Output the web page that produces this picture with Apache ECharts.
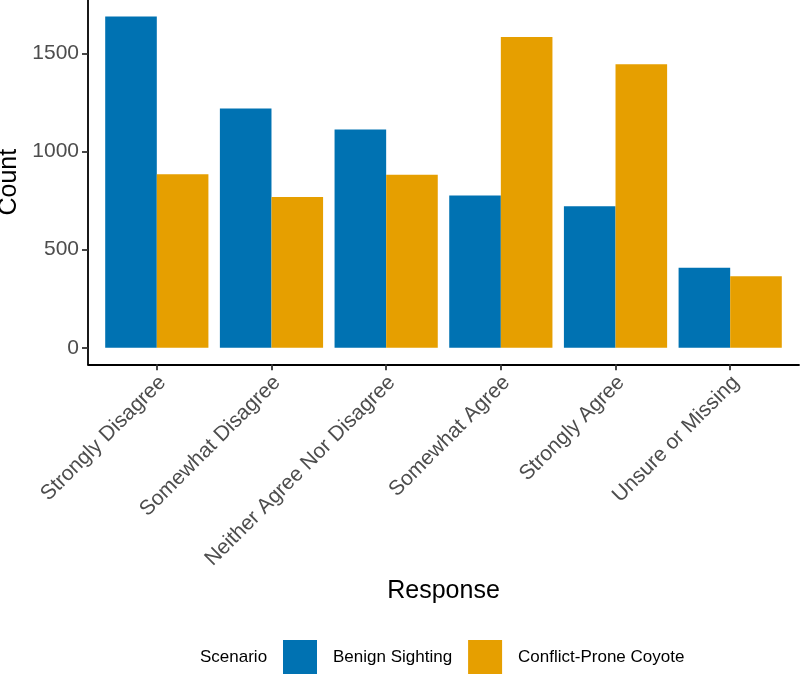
<!DOCTYPE html>
<html lang="en">
<head>
    <meta charset="UTF-8">
    <title>Coyote scenario responses</title>
    <script src="https://cdn.jsdelivr.net/npm/echarts@6/dist/echarts.min.js"></script>
    <style>
        body { margin: 0; background: #fff; }
        #chart { width: 800px; height: 675px; }
    </style>
</head>
<body>
    <div id="chart"></div>
    <script type="text/javascript">
    // values
    const categories = ['Strongly Disagree', 'Somewhat Disagree', 'Neither Agree Nor Disagree',
                        'Somewhat Agree', 'Strongly Agree', 'Unsure or Missing'];
    const seriesNames = ['Benign Sighting', 'Conflict-Prone Coyote'];
    const benign = [1687, 1219, 1112, 775, 721, 408];
    const conflict = [884, 768, 881, 1583, 1444, 364];
    const yTicks = [0, 500, 1000, 1500];

    const font = 'Liberation Sans, Arial, sans-serif';
    const colors = ['#0072B2', '#E69F00'];

    // ggplot style padding: 5% on y, 0.6 units on x
    const dataMax = Math.max(...benign, ...conflict);
    const yMin = -0.05 * dataMax;
    const yMax = 1.05 * dataMax;
    const xPos = categories.map((c, i) => i + 1);
    // rotated labels hang a little right of their tick, like hjust = 1 in ggplot
    const xLabelPos = xPos.map(v => v + 0.05);

    const gridLeft = 88, gridRight = 1;
    const unitPx = (800 - gridLeft - gridRight) / (categories.length + 0.2);
    const barW = 0.45 * unitPx;

    var chart = echarts.init(document.getElementById('chart'));
    var option = {
        animation: false,
        textStyle: { fontFamily: font },
        grid: {
            left: gridLeft, right: gridRight, top: 0, bottom: 310.7,
            containLabel: false, outerBoundsMode: 'none'
        },
        title: {
            text: 'Scenario', left: 200, top: 649, padding: 0,
            textStyle: { fontSize: 17, fontWeight: 'normal', color: '#000', fontFamily: font }
        },
        legend: {
            data: seriesNames, left: 283, top: 640, padding: 0,
            icon: 'rect', itemWidth: 34, itemHeight: 34, itemGap: 16,
            textStyle: { fontSize: 17, color: '#000', fontFamily: font, padding: [0, 0, 0, 11] }
        },
        xAxis: {
            type: 'value', min: 0.4, max: categories.length + 0.6,
            name: 'Response', nameLocation: 'middle', nameGap: 214,
            nameTextStyle: { fontSize: 25, color: '#000', fontFamily: font },
            axisLine: { show: true, onZero: false, lineStyle: { color: '#000', width: 1.8 } },
            axisTick: { show: true, customValues: xPos, length: 6, lineStyle: { color: '#333', width: 1.8 } },
            axisLabel: {
                customValues: xLabelPos, rotate: 45, margin: 15, padding: [14, 0, 0, 0],
                fontSize: 21, color: '#4d4d4d', fontFamily: font,
                formatter: v => categories[Math.round(v) - 1]
            },
            splitLine: { show: false }
        },
        yAxis: {
            type: 'value', min: yMin, max: yMax,
            name: 'Count', nameLocation: 'middle', nameGap: 62, nameRotate: 90,
            nameTextStyle: { fontSize: 25, color: '#000', fontFamily: font },
            axisLine: { show: true, onZero: false, lineStyle: { color: '#000', width: 1.8 } },
            axisTick: { show: true, customValues: yTicks, length: 6, lineStyle: { color: '#333', width: 1.8 } },
            axisLabel: {
                customValues: yTicks, margin: 9, fontSize: 21, color: '#4d4d4d', fontFamily: font,
                formatter: v => String(v)
            },
            splitLine: { show: false }
        },
        series: [
            {
                name: seriesNames[0], type: 'bar', barWidth: barW, barGap: '0%',
                itemStyle: { color: colors[0] },
                data: benign.map((v, i) => [xPos[i], v])
            },
            {
                name: seriesNames[1], type: 'bar', barWidth: barW, barGap: '0%',
                itemStyle: { color: colors[1] },
                data: conflict.map((v, i) => [xPos[i], v])
            }
        ]
    };
    chart.setOption(option);
    </script>
</body>
</html>
